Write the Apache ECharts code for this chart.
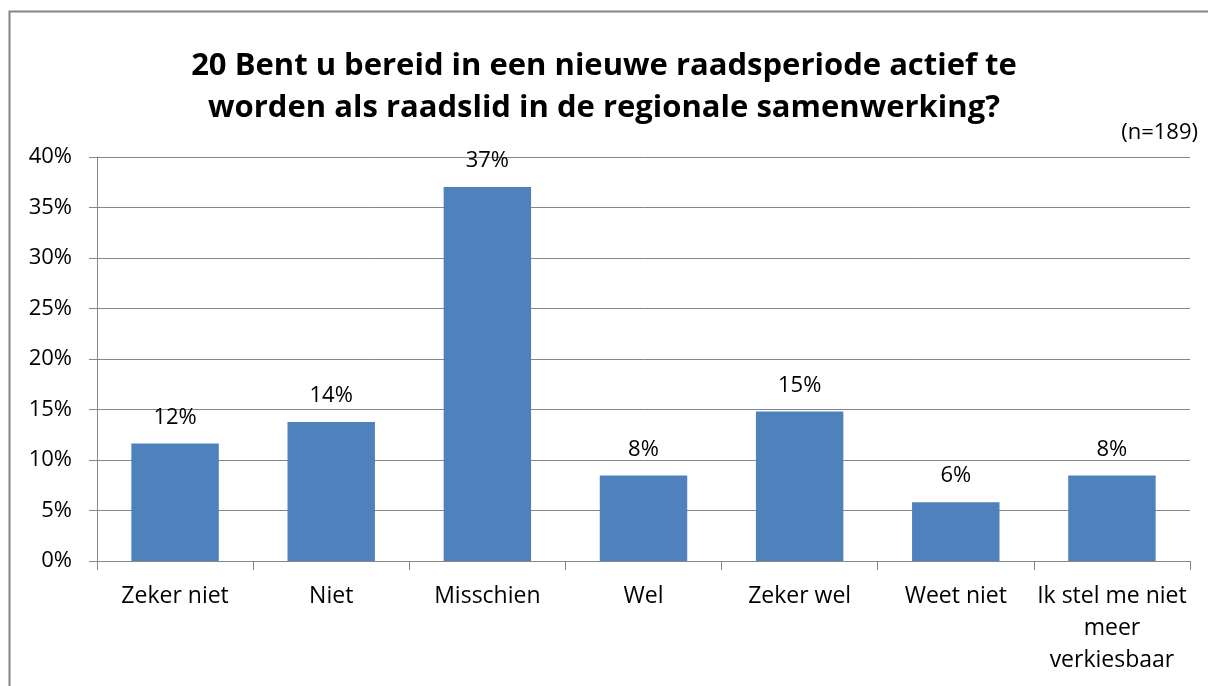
<!DOCTYPE html>
<html lang="nl">
<head>
<meta charset="utf-8" />
<title>Raadsperiode</title>
<script src="https://cdn.jsdelivr.net/npm/echarts@6/dist/echarts.min.js"></script>
<style>
  html, body { margin: 0; padding: 0; background: #fff; }
  #chart { width: 1208px; height: 686px; }
</style>
</head>
<body>
<div id="chart"></div>
<script type="text/javascript">
    // categorieen en percentages (n=189)
    const categories = ['Zeker niet', 'Niet', 'Misschien', 'Wel', 'Zeker wel', 'Weet niet', 'Ik stel me niet\nmeer\nverkiesbaar'];
    const values = [11.64, 13.76, 37.04, 8.47, 14.81, 5.82, 8.47];
    const labels = ['12%', '14%', '37%', '8%', '15%', '6%', '8%'];

    const font = 'Open Sans, Noto Sans, sans-serif';
    const myChart = echarts.init(document.getElementById('chart'));
    const option = {
        backgroundColor: '#fff',
        title: {
            text: '20 Bent u bereid in een nieuwe raadsperiode actief te\nworden als raadslid in de regionale samenwerking?',
            left: 'center',
            top: 40,
            textStyle: {
                fontFamily: font,
                fontSize: 31,
                fontWeight: 'bold',
                color: '#000',
                lineHeight: 42
            }
        },
        graphic: [
            {
                type: 'rect',
                shape: { x: 9.5, y: 11.5, width: 1220, height: 700 },
                style: { fill: 'none', stroke: '#868686', lineWidth: 2 },
                silent: true
            },
            {
                type: 'text',
                right: 10,
                top: 122,
                style: { text: '(n=189)', font: '22px ' + font, fill: '#000' }
            }
        ],
        grid: {
            left: 97,
            right: 18,
            top: 157,
            bottom: 125
        },
        xAxis: {
            type: 'category',
            data: categories,
            axisLine: { lineStyle: { color: '#868686', width: 1 } },
            axisTick: { show: true, length: 9, lineStyle: { color: '#868686' } },
            axisLabel: {
                color: '#000',
                fontFamily: font,
                fontSize: 23,
                lineHeight: 32,
                margin: 19,
                interval: 0
            }
        },
        yAxis: {
            type: 'value',
            min: 0,
            max: 40,
            interval: 5,
            axisLine: { show: true, lineStyle: { color: '#868686' } },
            axisTick: { show: true, length: 8, lineStyle: { color: '#868686' } },
            splitLine: { lineStyle: { color: '#868686', width: 1 } },
            axisLabel: {
                formatter: '{value}%',
                color: '#000',
                fontFamily: font,
                fontSize: 22,
                margin: 25
            }
        },
        series: [{
            type: 'bar',
            data: values,
            barWidth: '56%',
            itemStyle: { color: '#4F81BD' },
            label: {
                show: true,
                position: 'top',
                distance: 15,
                color: '#000',
                fontFamily: font,
                fontSize: 22,
                formatter: function (p) { return labels[p.dataIndex]; }
            },
            animation: false
        }],
        animation: false
    };
    myChart.setOption(option);
</script>
</body>
</html>
